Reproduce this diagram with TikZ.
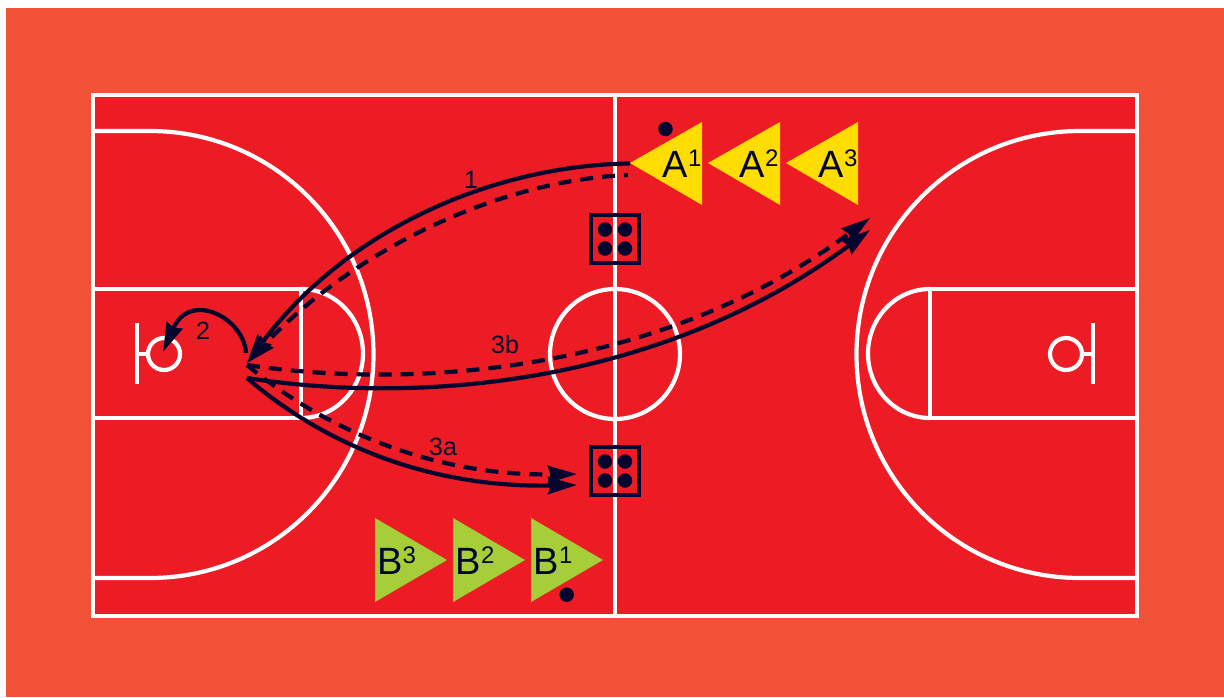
\documentclass[tikz,border=0pt]{standalone}
\usepackage{fontspec}
\setmainfont{Liberation Sans}
\usetikzlibrary{arrows.meta}
\definecolor{surround}{HTML}{F15136}
\definecolor{courtred}{HTML}{ED1C24}
\definecolor{ink}{HTML}{03052E}
\definecolor{teamA}{HTML}{FFDD00}
\definecolor{teamB}{HTML}{A6CE39}
\newcommand{\plabel}[2]{{\fontsize{38}{38}\selectfont #1\raisebox{11pt}{\fontsize{24}{24}\selectfont #2}}}
\tikzset{
  x=1pt,y=-1pt,
  courtline/.style={draw=white,line width=4.2pt},
  solidrun/.style={draw=ink,line width=4.2pt,-{Stealth[length=29pt,width=17pt,inset=2.5pt]}},
  dashrun/.style={draw=ink,line width=4.2pt,dash pattern=on 13pt off 9pt,-{Stealth[length=29pt,width=17pt,inset=2.5pt]}},
  player/.style={inner sep=0pt,text=ink},
  runlabel/.style={inner sep=0pt,text=ink,font=\fontsize{25}{25}\selectfont},
  dotmark/.style={fill=ink,draw=none,circle,minimum size=14.5pt,inner sep=0pt},
  cone/.style={draw=ink,line width=4.4pt,fill=none,minimum width=48pt,minimum height=48pt,inner sep=0pt},
}
\begin{document}
\begin{tikzpicture}
\useasboundingbox (0,0) rectangle (1224,697);
\fill[surround] (6,8) rectangle (1224,697);
\fill[courtred] (93,95) rectangle (1137,616);
% left half
\draw[courtline] (93,131) -- (150,131) arc[start angle=-90,end angle=90,radius=223.5] -- (93,578);
\draw[courtline] (93,289) -- (301,289) -- (301,418) -- (93,418);
\draw[courtline] (301,289) arc[start angle=-90,end angle=90,x radius=62,y radius=64.5];
\draw[courtline] (164,354) circle[radius=16];
\draw[courtline] (137,323) -- (137,384);
\draw[courtline] (137,354) -- (148,354);
% right half
\draw[courtline] (1137,131) -- (1080,131) arc[start angle=270,end angle=90,radius=223.5] -- (1137,578);
\draw[courtline] (1137,289) -- (930,289) -- (930,418) -- (1137,418);
\draw[courtline] (930,289) arc[start angle=270,end angle=90,x radius=62,y radius=64.5];
\draw[courtline] (1066,354) circle[radius=16];
\draw[courtline] (1093,323) -- (1093,384);
\draw[courtline] (1093,354) -- (1082,354);
% centre
\draw[courtline] (615,95) -- (615,616);
\draw[courtline] (615,354) circle[radius=65];
\draw[courtline] (93,95) rectangle (1137,616);
% players
\fill[teamA] (630,163) -- (702,122) -- (702,205) -- cycle;
\fill[teamA] (708,163) -- (780,122) -- (780,205) -- cycle;
\fill[teamA] (786,163) -- (858,122) -- (858,205) -- cycle;
\fill[teamB] (447,560) -- (375,518) -- (375,602) -- cycle;
\fill[teamB] (525,560) -- (453,518) -- (453,602) -- cycle;
\fill[teamB] (603,560) -- (531,518) -- (531,602) -- cycle;
\node[player] (a1) at (682,164) {\plabel{A}{1}};
\node[player] (a2) at (759,164) {\plabel{A}{2}};
\node[player] (a3) at (838,164) {\plabel{A}{3}};
\node[player] (b3) at (396.5,561) {\plabel{B}{3}};
\node[player] (b2) at (475,561) {\plabel{B}{2}};
\node[player] (b1) at (553,561) {\plabel{B}{1}};
\node[dotmark] (ball1) at (665.5,129) {};
\node[dotmark] (ball2) at (566.7,594.7) {};
% cones
\node[cone] (boxT) at (615,239) {};
\node[cone] (boxB) at (615,471) {};
\foreach \n/\cy in {boxT/239,boxB/471}{
  \node[dotmark] (\n a) at (605,\cy-9.5) {};
  \node[dotmark] (\n b) at (625,\cy-9.5) {};
  \node[dotmark] (\n c) at (605,\cy+9.5) {};
  \node[dotmark] (\n d) at (625,\cy+9.5) {};
}
% anchors
\coordinate (startS) at (630,163.5);
\coordinate (startD) at (628,175);
\coordinate (meet) at (247,363);
\coordinate (s2) at (246,353);
\coordinate (ring) at (163,352);
\coordinate (o3bS) at (247,378);
\coordinate (o3bD) at (247,365);
\coordinate (t3bS) at (870,230);
\coordinate (t3bD) at (870,218);
\coordinate (o3aS) at (247,378);
\coordinate (o3aD) at (247,365);
\coordinate (t3aS) at (577,485);
\coordinate (t3aD) at (577,474);
% runs
\draw[solidrun] (startS) .. controls (500,165) and (350,225) .. (meet);
\draw[dashrun,dash phase=9pt] (startD) .. controls (500,180) and (355,249) .. (meet);
\draw[solidrun] (s2) .. controls (244,318) and (190,290) .. (ring);
\draw[solidrun] (o3bS) .. controls (420,405) and (660,385) .. (t3bS);
\draw[dashrun] (o3bD) .. controls (430,392) and (670,366) .. (t3bD);
\draw[solidrun] (o3aS) .. controls (325,445) and (430,488) .. (t3aS);
\draw[dashrun] (o3aD) .. controls (330,434) and (440,476) .. (t3aD);
% labels
\node[runlabel] (l1) at (471,180) {1};
\node[runlabel] (l2) at (203,331) {2};
\node[runlabel] (l3b) at (505,345) {3b};
\node[runlabel] (l3a) at (443,447) {3a};
\end{tikzpicture}
\end{document}
